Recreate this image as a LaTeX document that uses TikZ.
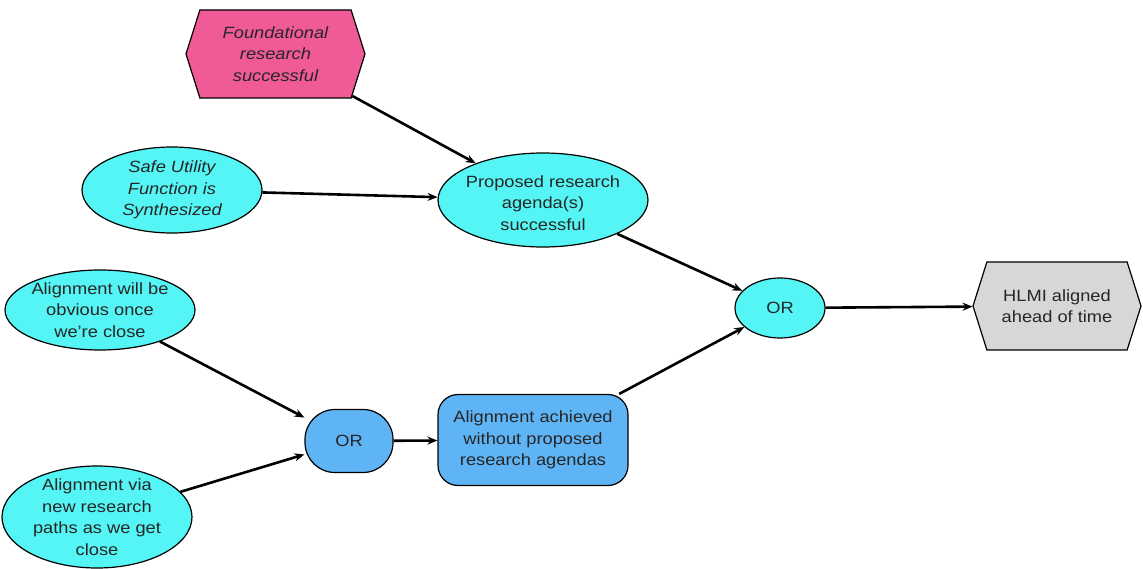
\documentclass[tikz,border=0pt]{standalone}
\usepackage{fontspec}
\setmainfont[FakeStretch=1.12]{Liberation Sans}
\usetikzlibrary{shapes.geometric,shapes.symbols,arrows.meta}
\definecolor{cyanfill}{RGB}{85,245,245}
\definecolor{pinkfill}{RGB}{240,90,150}
\definecolor{bluefill}{RGB}{95,180,245}
\definecolor{grayfill}{RGB}{215,215,215}
\begin{document}
\begin{tikzpicture}[x=1pt,y=-1pt,
  txt/.style={align=center, font=\fontsize{16.3}{21.5}\selectfont, text=black!85, inner sep=0pt},
  base/.style={draw=black, line width=1.2pt, inner sep=0pt},
  cyanell/.style={base, ellipse, fill=cyanfill},
  hexa/.style={base, signal, signal to=west and east, signal pointer angle=145},
  conn/.style={line width=2.6pt, -{Stealth[length=10pt,width=8pt]}}]
\useasboundingbox (0,0) rectangle (1143,569);
\node[hexa, fill=pinkfill, minimum width=179pt, minimum height=88pt,
  label={[txt, font=\fontsize{16.3}{21.5}\selectfont\itshape]center:Foundational\\research\\successful}] (found) at (275.5,54) {};
\node[cyanell, minimum width=180pt, minimum height=86pt,
  label={[txt, font=\fontsize{16.3}{21.5}\selectfont\itshape]center:Safe Utility\\Function is\\Synthesized}] (safe) at (172,190) {};
\node[cyanell, minimum width=210pt, minimum height=94pt,
  label={[txt, yshift=-3pt]center:Proposed research\\agenda(s)\\successful}] (prop) at (543,200) {};
\node[cyanell, minimum width=190pt, minimum height=80pt,
  label={[txt]center:Alignment will be\\obvious once\\we're close}] (obv) at (100,310) {};
\node[cyanell, minimum width=190pt, minimum height=102pt,
  label={[txt]center:Alignment via\\new research\\paths as we get\\close}] (via) at (97,517) {};
\node[base, fill=bluefill, rounded corners=30pt, minimum width=88pt, minimum height=63pt,
  label={[txt]center:OR}] (orlow) at (349,441) {};
\node[base, fill=bluefill, rounded corners=20pt, minimum width=190pt, minimum height=91pt,
  label={[txt]center:Alignment achieved\\without proposed\\research agendas}] (ach) at (533,440) {};
\node[cyanell, minimum width=90pt, minimum height=60pt,
  label={[txt]center:OR}] (ortop) at (780,308) {};
\node[hexa, fill=grayfill, minimum width=168pt, minimum height=88pt,
  label={[txt]center:HLMI aligned\\ahead of time}] (hlmi) at (1057,306) {};
\draw[conn] (found) -- (prop);
\draw[conn] (safe) -- (prop);
\draw[conn] (prop) -- (ortop);
\draw[conn] (obv) -- (orlow);
\draw[conn] (via) -- (orlow);
\draw[conn] (orlow) -- (ach);
\draw[conn] (ach) -- (ortop);
\draw[conn] (ortop) -- (hlmi);
\end{tikzpicture}
\end{document}
